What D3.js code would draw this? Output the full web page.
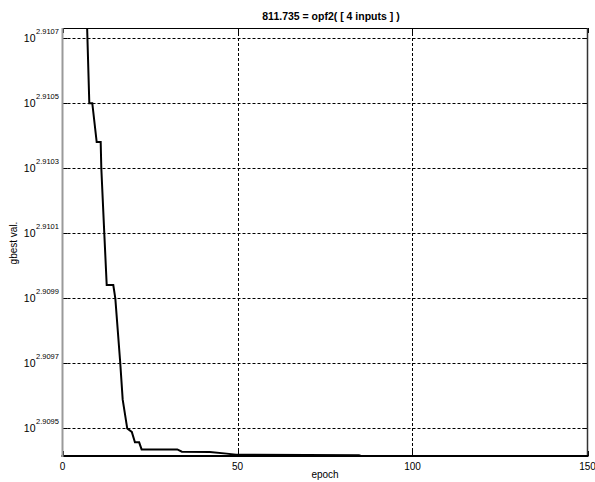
<!DOCTYPE html>
<html>
<head>
<meta charset="utf-8">
<script src="https://cdn.jsdelivr.net/npm/d3@7"></script>
<style>
body { margin: 0; background: #fff; }
text { font-family: "Liberation Sans", Arial, sans-serif; fill: #000; }
</style>
</head>
<body>
<script>
// gbest value per epoch (breakpoints)
var epochs = [6.3, 7.66, 8.51, 9.77, 10.91, 11.09, 11.94, 12.63, 14.51, 15.09, 16.51, 17.2, 18.5, 19.8, 20.7, 21.9, 22.6, 32.8, 34.1, 42.1, 46.9, 49.6, 84.7, 85.5, 150];
var gbest = [814.714, 813.765, 813.765, 813.541, 813.541, 813.390, 813.016, 812.719, 812.719, 812.642, 812.268, 812.060, 811.894, 811.875, 811.815, 811.815, 811.774, 811.774, 811.761, 811.759, 811.750, 811.744, 811.741, 811.735, 811.735];
var xTicks = [0, 50, 100, 150];
var yExps = ["2.9095", "2.9097", "2.9099", "2.9101", "2.9103", "2.9105", "2.9107"];
var yLimExp = [2.909415, 2.91073];
var xLim = [0, 150];
var title = "811.735 = opf2( [ 4 inputs ] )";

var width = 595, height = 482;
var pLeft = 62.5, pRight = 587.5, pTop = 28, pBottom = 456;

var svg = d3.select("body").append("svg")
	.attr("width", width)
	.attr("height", height);

var x = d3.scaleLinear().domain(xLim).range([pLeft, pRight]);
var y = d3.scaleLog()
	.domain([Math.pow(10, yLimExp[0]), Math.pow(10, yLimExp[1])])
	.range([pBottom, pTop]);

svg.append("clipPath").attr("id", "plotclip")
	.append("rect")
	.attr("x", pLeft).attr("y", pTop)
	.attr("width", pRight - pLeft).attr("height", pBottom - pTop);

// grid (dotted, MATLAB style)
var grid = svg.append("g").attr("stroke", "#000").attr("stroke-width", 1).attr("stroke-dasharray", "3,2");
grid.selectAll(".gx")
	.data(xTicks.filter(function(d){ return d > xLim[0] && d < xLim[1]; }))
	.enter().append("line")
		.attr("x1", function(d){ return Math.round(x(d)) + 0.5; })
		.attr("x2", function(d){ return Math.round(x(d)) + 0.5; })
		.attr("y1", pTop).attr("y2", pBottom);
grid.selectAll(".gy")
	.data(yExps)
	.enter().append("line")
		.attr("x1", pLeft).attr("x2", pRight)
		.attr("y1", function(d){ return Math.round(y(Math.pow(10, +d))) + 0.5; })
		.attr("y2", function(d){ return Math.round(y(Math.pow(10, +d))) + 0.5; });

// inward tick marks
var ticks = svg.append("g").attr("stroke", "#000").attr("stroke-width", 1);
xTicks.forEach(function(d){
	var px = Math.round(x(d)) + 0.5;
	ticks.append("line").attr("x1", px).attr("x2", px).attr("y1", pBottom).attr("y2", pBottom - 5);
	ticks.append("line").attr("x1", px).attr("x2", px).attr("y1", pTop).attr("y2", pTop + 5);
});
yExps.forEach(function(d){
	var py = Math.round(y(Math.pow(10, +d))) + 0.5;
	ticks.append("line").attr("x1", pLeft).attr("x2", pLeft + 5).attr("y1", py).attr("y2", py);
	ticks.append("line").attr("x1", pRight).attr("x2", pRight - 5).attr("y1", py).attr("y2", py);
});

// the gbest curve
var line = d3.line()
	.x(function(d, i){ return x(epochs[i]); })
	.y(function(d){ return y(d); });

svg.append("path")
	.datum(gbest)
	.attr("clip-path", "url(#plotclip)")
	.attr("fill", "none")
	.attr("stroke", "#000")
	.attr("stroke-width", 2)
	.attr("stroke-linejoin", "miter")
	.attr("d", line);

// frame
svg.append("line").attr("x1", pLeft).attr("x2", pRight).attr("y1", pTop + 0.5).attr("y2", pTop + 0.5)
	.attr("stroke", "#000").attr("stroke-width", 1);
svg.append("line").attr("x1", pRight).attr("x2", pRight).attr("y1", pTop).attr("y2", pBottom)
	.attr("stroke", "#333").attr("stroke-width", 1.5);
svg.append("line").attr("x1", pLeft - 1).attr("x2", pRight + 1).attr("y1", pBottom).attr("y2", pBottom)
	.attr("stroke", "#000").attr("stroke-width", 2);
svg.append("line").attr("x1", pLeft).attr("x2", pLeft).attr("y1", pTop).attr("y2", pBottom + 1)
	.attr("stroke", "#9a9a9a").attr("stroke-width", 2);

// x tick labels
svg.selectAll(".xl")
	.data(xTicks)
	.enter().append("text")
		.attr("x", function(d){ return x(d); })
		.attr("y", 470)
		.attr("text-anchor", "middle")
		.attr("font-size", "10px")
		.text(function(d){ return d; });

// y tick labels: 10^exp
var yl = svg.selectAll(".yl")
	.data(yExps)
	.enter().append("g")
		.attr("transform", function(d){ return "translate(0," + y(Math.pow(10, +d)) + ")"; });
yl.append("text")
	.attr("x", 35.5)
	.attr("y", 4)
	.attr("text-anchor", "end")
	.attr("font-size", "10.5px")
	.text("10");
yl.append("text")
	.attr("x", 36)
	.attr("y", -4)
	.attr("font-size", "7.5px")
	.text(function(d){ return d; });

// title and axis labels
svg.append("text")
	.attr("x", 331).attr("y", 20)
	.attr("text-anchor", "middle")
	.attr("font-size", "10.5px")
	.attr("font-weight", "bold")
	.text(title);

svg.append("text")
	.attr("transform", "translate(17,243) rotate(-90)")
	.attr("text-anchor", "middle")
	.attr("font-size", "10px")
	.text("gbest val.");

svg.append("text")
	.attr("x", 325).attr("y", 478)
	.attr("text-anchor", "middle")
	.attr("font-size", "10px")
	.text("epoch");
</script>
</body>
</html>
